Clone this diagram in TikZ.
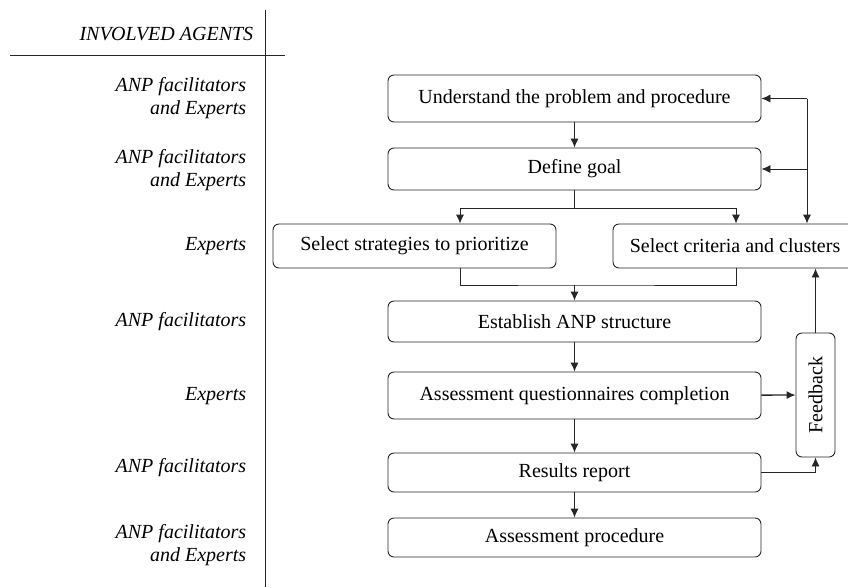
\documentclass[tikz,border=0pt]{standalone}
\usepackage{fontspec}
\setmainfont{Liberation Serif}
\usetikzlibrary{arrows.meta}
\begin{document}
\begin{tikzpicture}[x=1pt,y=-1pt,line width=0.9pt,draw=black!85,
	stage/.style={draw, rounded corners=6pt, minimum width=373pt, minimum height=44pt, inner sep=0pt, font=\fontsize{20}{24}\selectfont},
	agent/.style={anchor=east, align=right, font=\fontsize{20}{23}\selectfont\itshape},
	flow/.style={-{Latex[length=9pt,width=8pt]}}]
	\useasboundingbox (0,0) rectangle (848,587);
	% agents column
	\draw (265,10) -- (265,587);
	\draw (10,55) -- (285,55);
	\node [agent] (head) at (257,34) {INVOLVED AGENTS};
	\node [agent] (ag1) at (250,98) {ANP facilitators\\and Experts};
	\node [agent] (ag2) at (250,170) {ANP facilitators\\and Experts};
	\node [agent] (ag3) at (250,246) {Experts};
	\node [agent] (ag4) at (250,322) {ANP facilitators};
	\node [agent] (ag5) at (250,396) {Experts};
	\node [agent] (ag6) at (250,468) {ANP facilitators};
	\node [agent] (ag7) at (250,545) {ANP facilitators\\and Experts};
	% procedure steps
	\node [stage, minimum height=47pt] (understand) at (574.5,98.5) {Understand the problem and procedure};
	\node [stage, minimum height=42pt] (goal) at (574.5,169) {Define goal};
	\node [stage, minimum width=283pt] (strategies) at (414.5,246) {Select strategies to prioritize};
	\node [stage, minimum width=244pt] (criteria) at (735,246) {Select criteria and clusters};
	\node [stage, minimum height=41pt] (structure) at (574.5,321.5) {Establish ANP structure};
	\node [stage, minimum height=47pt] (questionnaire) at (574.5,395.5) {Assessment questionnaires completion};
	\node [stage, minimum height=39pt] (results) at (574.5,472.5) {Results report};
	\node [stage, minimum height=39pt] (procedure) at (574.5,537.5) {Assessment procedure};
	\node [draw, rounded corners=6pt, minimum width=39pt, minimum height=124pt, inner sep=0pt, font=\fontsize{20}{24}\selectfont] (feedback) at (815.5,395) {\rotatebox{90}{Feedback}};
	\coordinate (split) at (574.5,208);
	\coordinate (merge) at (574.5,285);
	\coordinate (loop) at (807,98.5);
	% connectors
	\draw [flow] (understand) -- (goal);
	\draw (goal) -- (split);
	\draw [flow] (split) -| ([xshift=45.5pt]strategies.north);
	\draw [flow] (split) -| ([xshift=1pt]criteria.north);
	\draw ([xshift=45.5pt]strategies.south) |- (merge) -| ([xshift=1pt]criteria.south);
	\draw [flow] (merge) -- (structure);
	\draw [flow] (structure) -- (questionnaire);
	\draw [flow] (questionnaire) -- (results);
	\draw [flow] (results) -- (procedure);
	\draw [flow] (loop) -- (understand.east);
	\draw [flow] (goal.east -| loop) -- (goal.east);
	\draw [flow] (loop) -- (criteria.north -| loop);
	\draw [flow] (feedback) -- (criteria.south -| feedback);
	\draw [flow, line width=1.3pt] (questionnaire) -- (feedback);
	\draw [flow] (results) -| (feedback);
\end{tikzpicture}
\end{document}
